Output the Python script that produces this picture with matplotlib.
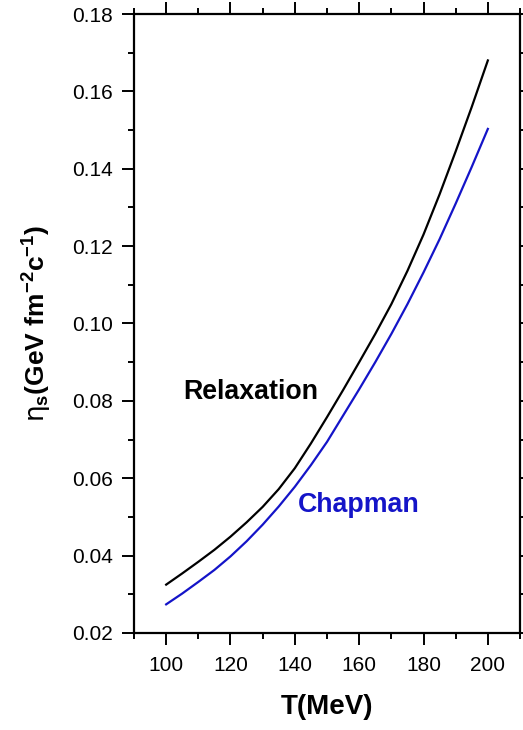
import matplotlib
matplotlib.use("Agg")
import matplotlib.pyplot as plt
from matplotlib.ticker import MultipleLocator

plt.rcParams['font.family'] = ['Liberation Sans', 'DejaVu Sans']
plt.rcParams['mathtext.fontset'] = 'custom'
plt.rcParams['mathtext.rm'] = 'Liberation Sans:bold'
plt.rcParams['mathtext.bf'] = 'Liberation Sans:bold'
plt.rcParams['mathtext.it'] = 'Liberation Sans:bold'
plt.rcParams['mathtext.sf'] = 'DejaVu Sans'

# temperature (MeV)
T = [100, 105, 110, 115, 120, 125, 130, 135, 140, 145, 150,
     155, 160, 165, 170, 175, 180, 185, 190, 195, 200]
# shear viscosity, relaxation time approximation
eta_relax = [0.0325, 0.0354, 0.0384, 0.0415, 0.0449, 0.0486, 0.0526, 0.0572, 0.0626, 0.0690, 0.0758,
             0.0828, 0.0900, 0.0973, 0.1050, 0.1136, 0.1230, 0.1334, 0.1445, 0.1560, 0.1680]
# shear viscosity, Chapman-Enskog
eta_chap = [0.0274, 0.0302, 0.0332, 0.0363, 0.0398, 0.0437, 0.0480, 0.0527, 0.0578, 0.0634, 0.0694,
            0.0762, 0.0830, 0.0900, 0.0973, 0.1050, 0.1132, 0.1218, 0.1310, 0.1405, 0.1503]

blue = '#1414c8'

fig = plt.figure(figsize=(5.23, 7.30), dpi=100)
ax = fig.add_axes([0.2562, 0.1329, 0.7381, 0.8479])

ax.plot(T, eta_relax, color='black', lw=1.6)
ax.plot(T, eta_chap, color=blue, lw=1.6)

ax.text(126.2, 0.0823, 'Relaxation', fontsize=19.3, fontweight='bold',
        color='black', ha='center', va='center')
ax.text(159.8, 0.0531, 'Chapman', fontsize=19.3, fontweight='bold',
        color=blue, ha='center', va='center')

ax.set_xlim(90, 210)
ax.set_ylim(0.02, 0.18)
ax.xaxis.set_major_locator(MultipleLocator(20))
ax.xaxis.set_minor_locator(MultipleLocator(10))
ax.yaxis.set_major_locator(MultipleLocator(0.02))
ax.yaxis.set_minor_locator(MultipleLocator(0.01))
ax.yaxis.set_major_formatter(plt.FormatStrFormatter('%.2f'))

ax.tick_params(which='both', direction='out', top=True, right=True,
               labelsize=15, width=1.4)
ax.tick_params(which='major', length=8.5)
ax.tick_params(which='minor', length=4.5)
ax.tick_params(axis='x', pad=8)
ax.tick_params(axis='y', pad=6.5)
for s in ax.spines.values():
    s.set_linewidth(1.6)

ax.set_xlabel('T(MeV)', fontsize=20, fontweight='bold', va='center')
ax.xaxis.set_label_coords(0.5, -0.1195)
ax.set_ylabel(r'$\mathsf{\eta}_\mathrm{s}$(GeV fm$^{-2}$c$^{-1}$)', fontsize=19,
              fontweight='bold', va='center')
ax.yaxis.set_label_coords(-0.251, 0.5)

fig.savefig('out.png', dpi=100)
